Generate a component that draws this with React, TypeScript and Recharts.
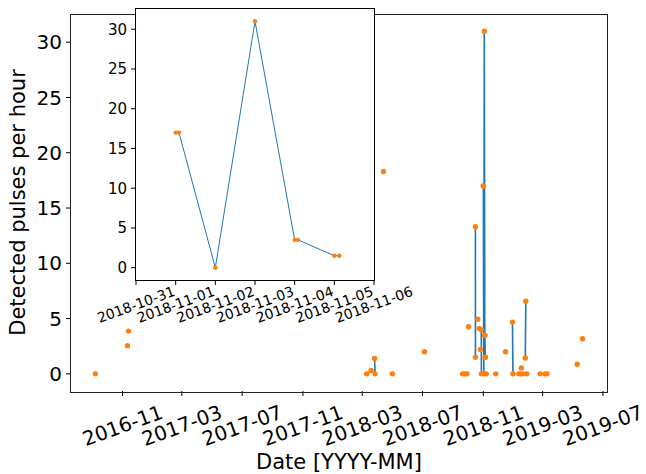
import { ScatterChart, Scatter, XAxis, YAxis } from 'recharts';

// detections, one entry per hour that had pulses (or a zero reading)
const dates = [
  '2016-09-07', '2016-11-11', '2016-11-13',
  '2018-03-10', '2018-03-19', '2018-03-26', '2018-03-27',
  '2018-04-13', '2018-05-01', '2018-07-05',
  '2018-09-20', '2018-09-25', '2018-09-29', '2018-10-02',
  '2018-10-16T00:00', '2018-10-16T03:00',
  '2018-10-21', '2018-10-24', '2018-10-26',
  '2018-10-28T00:00', '2018-10-28T02:00',
  '2018-11-01T00:00', '2018-11-01T02:00', '2018-11-02', '2018-11-03',
  '2018-11-04T00:00', '2018-11-04T02:00', '2018-11-05T00:00', '2018-11-05T03:00',
  '2018-11-07', '2018-11-26', '2018-12-16', '2018-12-30', '2018-12-31',
  '2019-01-12', '2019-01-16', '2019-01-17', '2019-01-20',
  '2019-01-25', '2019-01-26', '2019-01-28',
  '2019-02-24', '2019-03-06', '2019-03-10', '2019-05-10', '2019-05-21',
];
const pulses = [
  0, 2.55, 3.87,
  0, 0.3, 1.4, 0,
  18.3, 0, 2.0,
  0, 0, 0, 4.26,
  13.3, 1.5,
  4.95, 4.1, 2.2,
  4.0, 0,
  17, 17, 0, 31,
  3.5, 3.5, 1.5, 1.5,
  0, 0, 2.0, 4.68, 0,
  0, 0, 0.54, 0,
  1.44, 6.57, 0,
  0, 0, 0, 0.87, 3.18,
];
// consecutive points with the same non-zero id are joined by a line
const bursts = [
  0, 0, 0,
  0, 0, 1, 1,
  0, 0, 0,
  0, 0, 0, 0,
  2, 2,
  0, 0, 0,
  3, 3,
  4, 4, 4, 4,
  4, 4, 4, 4,
  0, 0, 0, 5, 5,
  0, 0, 0, 0,
  6, 6, 0,
  0, 0, 0, 0, 0,
];

const mainTicks = [
  '2016-11-01', '2017-03-01', '2017-07-01', '2017-11-01', '2018-03-01',
  '2018-07-01', '2018-11-01', '2019-03-01', '2019-07-01',
];
const insetTicks = [
  '2018-10-31', '2018-11-01', '2018-11-02', '2018-11-03',
  '2018-11-04', '2018-11-05', '2018-11-06',
];
const yTicks = [0, 5, 10, 15, 20, 25, 30];

const DAY = 86400000;
const toDay = (s: string) => Date.parse(s.length > 10 ? s + 'Z' : s) / DAY;
const fmtMonth = (d: number) => new Date(d * DAY).toISOString().slice(0, 7);
const fmtDay = (d: number) => new Date(Math.round(d) * DAY).toISOString().slice(0, 10);

const points = dates.map((d, i) => ({ t: toDay(d), v: pulses[i], b: bursts[i] }));
const burstIds = Array.from(new Set(bursts.filter((b) => b > 0)));

const tMin = Math.min(...points.map((p) => p.t));
const tMax = Math.max(...points.map((p) => p.t));
const tPad = (tMax - tMin) * 0.05;
const vMax = Math.max(...pulses);
const yDomain = [-vMax * 0.05, vMax * 1.05];

const insetStart = toDay(insetTicks[0]);
const insetEnd = toDay(insetTicks[insetTicks.length - 1]);
const insetPoints = points.filter((p) => p.t >= insetStart && p.t <= insetEnd);

const FONT = 'DejaVu Sans';
const BLUE = '#1f77b4';
const ORANGE = '#ff7f0e';

function RotatedTick(props: any) {
  const { x, y, payload, fontSize, shift, fmt } = props;
  return (
    <text
      transform={`translate(${x},${y + shift}) rotate(-20)`}
      textAnchor="middle"
      dominantBaseline="central"
      fontSize={fontSize}
      fontFamily={FONT}
      fill="#000"
    >
      {fmt(payload.value)}
    </text>
  );
}

const dot = (r: number) => (p: any) => <circle cx={p.cx} cy={p.cy} r={r} fill={ORANGE} />;
const noDot = () => <g />;

export default function App() {
  return (
    <div style={{ position: 'absolute', left: 0, top: 0, width: 646, height: 474, background: '#fff', fontFamily: FONT }}>
      <div style={{ position: 'absolute', left: 0, top: 0 }}>
        <ScatterChart width={646} height={474} margin={{ top: 14, right: 39, bottom: 0, left: 0 }}>
          <XAxis
            type="number"
            dataKey="t"
            domain={[tMin - tPad, tMax + tPad]}
            ticks={mainTicks.map(toDay)}
            tick={(p: any) => <RotatedTick {...p} fontSize={20} shift={29.5} fmt={fmtMonth} />}
            tickSize={5}
            tickMargin={0}
            height={83}
            axisLine={false}
            stroke="#000"
            allowDataOverflow
            interval={0}
            label={{ value: 'Date [YYYY-MM]', position: 'insideBottom', offset: 5, fontSize: 21, fill: '#000' }}
          />
          <YAxis
            type="number"
            dataKey="v"
            domain={yDomain}
            ticks={yTicks}
            tick={{ fontSize: 20, fill: '#000' }}
            tickSize={5}
            tickMargin={4}
            width={71}
            axisLine={false}
            stroke="#000"
            allowDataOverflow
            interval={0}
            label={{
              content: (lp: any) => (
                <text
                  transform={`translate(18,${lp.viewBox.y + lp.viewBox.height / 2}) rotate(-90)`}
                  textAnchor="middle"
                  dominantBaseline="central"
                  fontSize={21}
                  fill="#000"
                >
                  Detected pulses per hour
                </text>
              ),
            }}
          />
          {burstIds.map((id) => (
            <Scatter
              key={id}
              data={points.filter((p) => p.b === id)}
              line={{ stroke: BLUE, strokeWidth: 1.6 }}
              shape={noDot}
              isAnimationActive={false}
            />
          ))}
          <Scatter data={points} shape={dot(2.7)} isAnimationActive={false} />
        </ScatterChart>
      </div>
      {/* main axes frame */}
      <div style={{ position: 'absolute', left: 70, top: 13.5, width: 536, height: 377, border: '1px solid #222' }} />
      {/* inset axes background and frame */}
      <div style={{ position: 'absolute', left: 135, top: 8, width: 238, height: 271, border: '1px solid #000', background: '#fff' }} />
      <div style={{ position: 'absolute', left: 60, top: 0 }}>
        <ScatterChart width={380} height={340} margin={{ top: 9, right: 66, bottom: 0, left: 0 }}>
          <XAxis
            type="number"
            dataKey="t"
            domain={[insetStart, insetEnd]}
            ticks={insetTicks.map(toDay)}
            tick={(p: any) => <RotatedTick {...p} fontSize={14} shift={19.5} fmt={fmtDay} />}
            tickSize={5}
            tickMargin={0}
            height={60}
            axisLine={false}
            stroke="#000"
            allowDataOverflow
            interval={0}
          />
          <YAxis
            type="number"
            dataKey="v"
            domain={yDomain}
            ticks={yTicks}
            tick={{ fontSize: 15, fill: '#000' }}
            tickSize={5}
            tickMargin={4}
            width={76}
            axisLine={false}
            stroke="#000"
            allowDataOverflow
            interval={0}
          />
          <Scatter
            data={insetPoints.filter((p) => p.b > 0)}
            line={{ stroke: BLUE, strokeWidth: 1 }}
            shape={noDot}
            isAnimationActive={false}
          />
          <Scatter data={insetPoints} shape={dot(2.2)} isAnimationActive={false} />
        </ScatterChart>
      </div>
    </div>
  );
}
